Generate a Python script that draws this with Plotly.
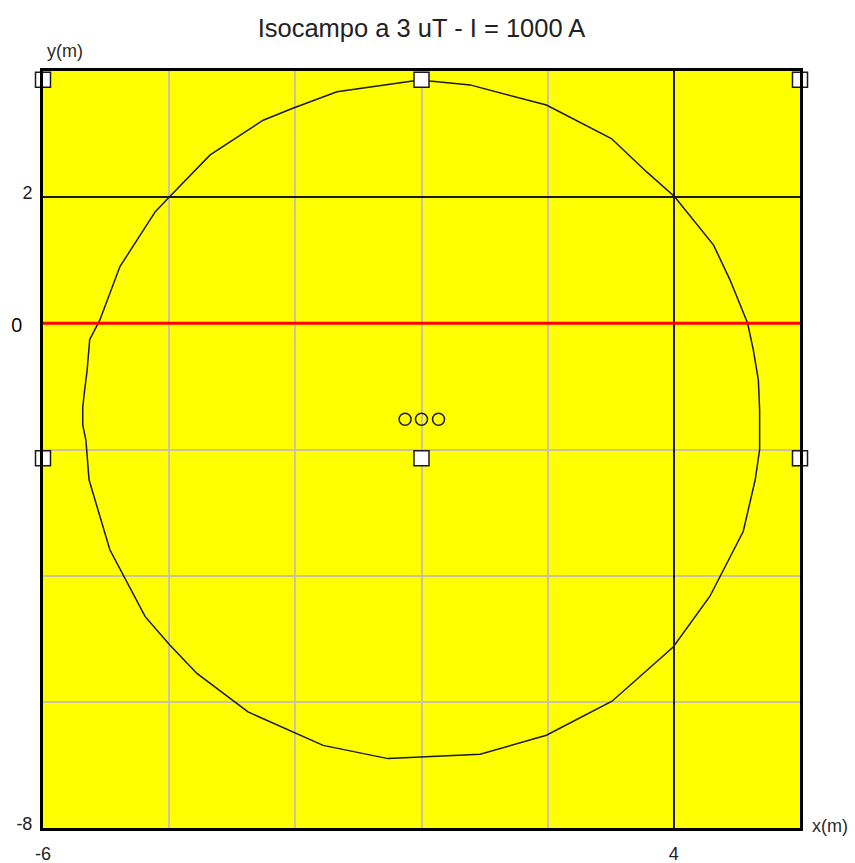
import plotly.graph_objects as go

# Iso-field contour (3 uT) around the three-conductor line, in metres
iso_x = [0.00, 0.13, 0.77, 1.98, 3.01, 3.57, 4.01, 4.63, 4.89, 5.13, 5.17, 5.26, 5.34,
         5.36, 5.36, 5.29, 5.10, 4.57, 3.99, 3.02, 1.98, 0.93, -0.02, -0.53, -1.56,
         -1.98, -2.75, -3.56, -3.99, -4.38, -4.94, -5.27, -5.30, -5.32, -5.37, -5.37,
         -5.34, -5.30, -5.26, -5.13, -5.10, -4.78, -4.22, -3.99, -3.35, -2.51, -2.04,
         -1.34, -0.45, 0.00]
iso_y = [3.86, 3.84, 3.78, 3.46, 2.93, 2.40, 2.01, 1.24, 0.69, 0.08, 0.00, -0.42, -0.90,
         -1.37, -2.00, -2.48, -3.30, -4.33, -5.13, -5.99, -6.53, -6.83, -6.88, -6.90,
         -6.69, -6.50, -6.16, -5.55, -5.10, -4.65, -3.59, -2.48, -2.01, -1.85, -1.61,
         -1.33, -1.06, -0.74, -0.26, 0.00, 0.05, 0.90, 1.77, 2.01, 2.67, 3.22, 3.41,
         3.67, 3.80, 3.86]

# Conductor positions
cond_x = [-0.26, 0.00, 0.27]
cond_y = [-1.52, -1.52, -1.52]

# Frame handles
handle_x = [-6, 0, 6, -6, 0, 6, -6, 0, 6]
handle_y = [3.86, 3.86, 3.86, -2.14, -2.14, -2.14, -8.14, -8.14, -8.14]

# Axis ticks
x_tickvals = [-6, 4]
x_ticktext = ["-6", "4"]
y_tickvals = [2, -8]
y_ticktext = ["2", "-8"]
x_grid = [-4, -2, 0, 2]
y_grid = [-6, -4, -2, 0]

# Ground reference level
ref_level = 0
ref_label = "0"

title_text = "Isocampo a 3 uT - I = 1000 A"

font_family = "Liberation Sans, Arial, sans-serif"
grid_gray = "#C9C4A2"

fig = go.Figure()

fig.add_trace(go.Scatter(
    x=iso_x, y=iso_y, mode="lines",
    line=dict(color="#1a1a1a", width=1.5),
    hoverinfo="skip", showlegend=False,
))

fig.add_trace(go.Scatter(
    x=cond_x, y=cond_y, mode="markers",
    marker=dict(symbol="circle-open", size=12, color="#1a1a1a", line=dict(width=1.5)),
    showlegend=False,
))

fig.add_trace(go.Scatter(
    x=handle_x, y=handle_y, mode="markers",
    marker=dict(symbol="square", size=15, color="white", line=dict(color="#1a1a1a", width=1.5)),
    cliponaxis=False, showlegend=False,
))

# red reference line at ground level
fig.add_shape(type="line", xref="paper", x0=0, x1=1, yref="y", y0=ref_level, y1=ref_level,
              line=dict(color="#FF0000", width=3), layer="above")

fig.add_annotation(text=ref_label, xref="paper", x=-0.035, yref="y", y=ref_level,
                   xanchor="center", yanchor="middle", yshift=-1, showarrow=False,
                   font=dict(family="Open Sans, Liberation Sans, sans-serif", size=20, color="black"))

fig.add_annotation(text="y(m)", xref="paper", x=0.029, yref="paper", y=1.026,
                   xanchor="center", yanchor="middle", showarrow=False,
                   font=dict(family=font_family, size=18, color="#2a2a2a"))
fig.add_annotation(text="x(m)", xref="paper", x=1.040, yref="paper", y=0.003,
                   xanchor="center", yanchor="middle", showarrow=False,
                   font=dict(family=font_family, size=18, color="#2a2a2a"))

axis_common = dict(
    showline=True, linecolor="black", linewidth=3, mirror=True,
    zeroline=False, ticks="", tickmode="array", automargin=False,
    showgrid=True, gridcolor="#1a1a1a", gridwidth=1.5,
    tickfont=dict(family=font_family, size=18, color="#222222"),
)

fig.update_xaxes(
    range=[-6, 6], tickvals=x_tickvals, ticktext=x_ticktext,
    ticklabelstandoff=7,
    minor=dict(tickmode="array", tickvals=x_grid, showgrid=True,
               gridcolor=grid_gray, gridwidth=1.5, ticks=""),
    **axis_common,
)
fig.update_yaxes(
    range=[-8, 4], tickvals=y_tickvals, ticktext=y_ticktext,
    ticklabelstandoff=4, ticklabelshift=-4,
    minor=dict(tickmode="array", tickvals=y_grid, showgrid=True,
               gridcolor=grid_gray, gridwidth=1.5, ticks=""),
    **axis_common,
)

fig.update_layout(
    width=855, height=863,
    margin=dict(l=43, r=55, t=71, b=35, autoexpand=False),
    paper_bgcolor="white", plot_bgcolor="#FFFF00",
    title=dict(text=title_text, xref="paper", x=0.5, xanchor="center",
               yref="container", y=1 - 28 / 863, yanchor="middle",
               font=dict(family=font_family, size=25.5, color="#222222")),
    showlegend=False,
)

fig.write_html("out.html")
